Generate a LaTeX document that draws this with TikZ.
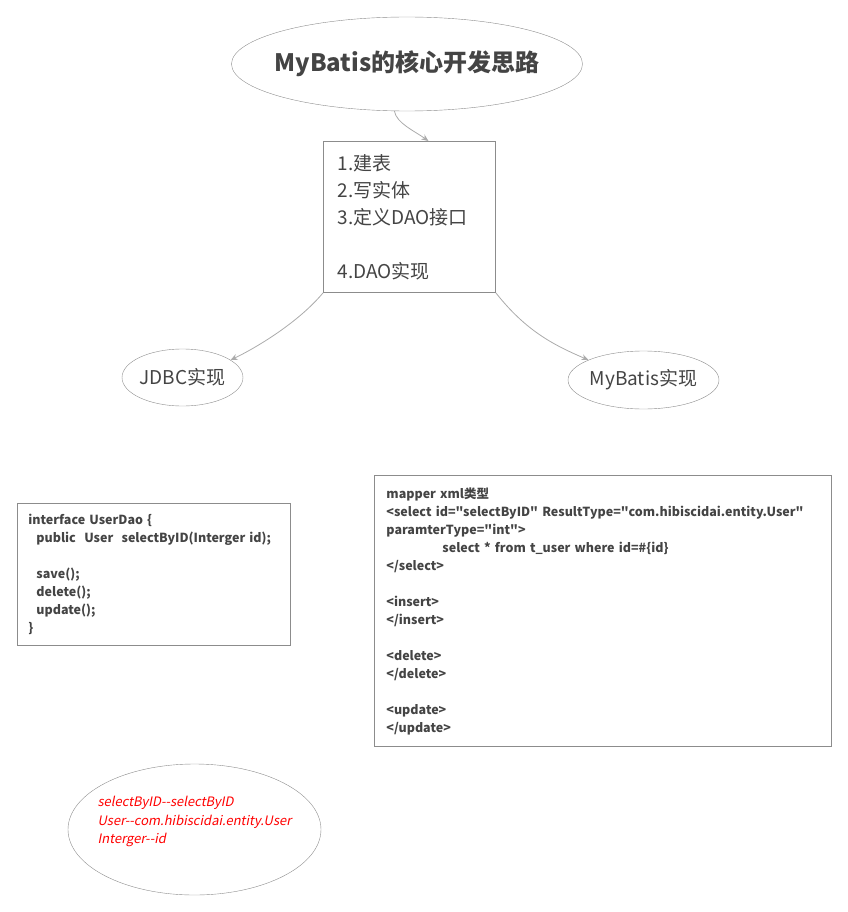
\documentclass[tikz,border=0pt]{standalone}
\usepackage{fontspec}
\setmainfont{Noto Sans CJK SC}[Ligatures=TeXOff]
\newfontfamily\notefont[FakeSlant=0.2,Ligatures=TeXOff]{Noto Sans CJK SC}
\usetikzlibrary{arrows.meta,calc,positioning,shapes.geometric}
\definecolor{linegray}{HTML}{8C8C8C}
\definecolor{conngray}{HTML}{ABABAB}
\definecolor{textgray}{HTML}{444444}
\definecolor{notered}{HTML}{FF0000}

\begin{document}
\begin{tikzpicture}[
    x=1pt, y=-1pt,
    bubble/.style={
        draw=linegray,
        ellipse,
        inner sep=0pt,
        text=textgray
    },
    block/.style={
        draw=linegray,
        line width=0.9pt,
        rectangle,
        anchor=north west,
        align=left,
        inner ysep=0pt,
        text=textgray
    },
    code/.style={
        block,
        font=\bfseries\fontsize{12.5}{18}\selectfont
    },
    notelabel/.style={
        align=left,
        text=notered,
        yshift=8pt,
        font=\notefont\fontsize{13}{18.5}\selectfont
    },
    conn/.style={
        draw=conngray,
        line width=0.8pt,
        -{Stealth[length=7pt,width=6pt]}
    }
]
\useasboundingbox (0,0) rectangle (847,912);

% Top: title and the four steps
\node[bubble, minimum width=351pt, minimum height=94pt, inner xsep=-12pt,
    font=\bfseries\fontsize{24}{28}\selectfont] at (407,64) (title) {MyBatis的核心开发思路};
\node[block, minimum height=151pt, text width=144pt, inner xsep=14pt,
    font=\fontsize{19}{27}\selectfont] at (323,141) (steps)
    {1.建表\\2.写实体\\3.定义DAO接口\\[27pt]4.DAO实现};

% Middle: the two implementations
\node[bubble, minimum width=121pt, minimum height=57pt, inner xsep=-5pt,
    font=\fontsize{19}{22}\selectfont] at (182.5,377.5) (jdbc) {JDBC实现};
\node[bubble, minimum width=151pt, minimum height=58pt, inner xsep=-5pt,
    font=\fontsize{19}{22}\selectfont] at (643.5,380) (mybatis) {MyBatis实现};

% Code boxes
\node[code, minimum height=142pt, text width=251pt, inner xsep=11pt]
    at (17,503) (dao)
    {interface UserDao \{\\
     \hspace*{8pt}public\ \ User\ \ selectByID(Interger id);\\[18pt]
     \hspace*{8pt}save();\\
     \hspace*{8pt}delete();\\
     \hspace*{8pt}update();\\
     \}};
\node[code, minimum height=271pt, text width=433pt, inner xsep=12pt]
    at (374,475) (mapper)
    {mapper xml类型\\
     <select id="selectByID" ResultType="com.hibiscidai.entity.User"\\
     paramterType="int">\\
     \hspace*{56pt}select * from t\_user where id=\#\{id\}\\
     </select>\\[18pt]
     <insert>\\
     </insert>\\[18pt]
     <delete>\\
     </delete>\\[18pt]
     <update>\\
     </update>};

% Note
\node[bubble, minimum width=253pt, minimum height=131pt,
    label={[notelabel]center:{selectByID--selectByID\\User--com.hibiscidai.entity.User\\Interger--id}}]
    at (194.5,829.5) (note) {};

% Connectors
\draw[conn] (title.255) .. controls +(2,12) and +(-14,-10) .. ($(steps.north)+(19,0)$);
\draw[conn] (steps.south west) .. controls +(-25,30) and +(25,-12) .. (jdbc.20);
\draw[conn] (steps.south east) .. controls +(30,38) and +(-35,-15) .. (mybatis.160);

\end{tikzpicture}
\end{document}
